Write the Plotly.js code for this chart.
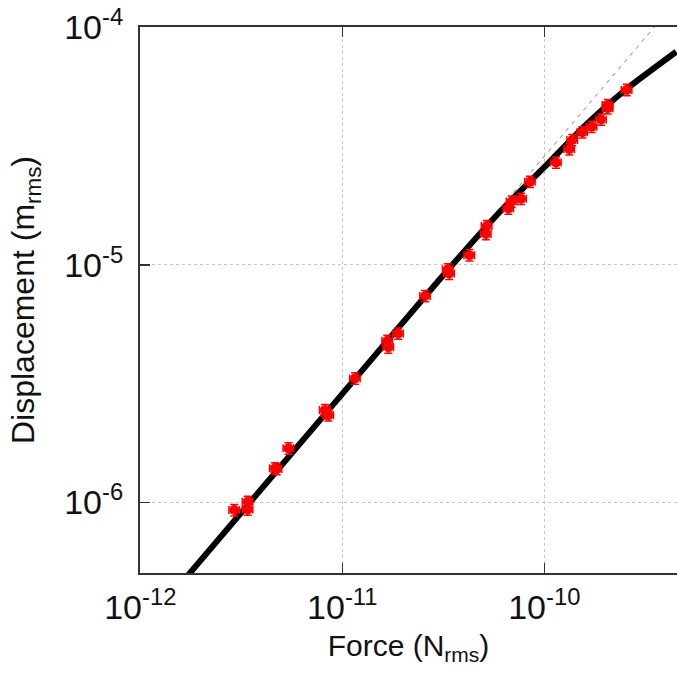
<!DOCTYPE html>
<html>
<head>
<meta charset="utf-8">
<script src="https://cdn.plot.ly/plotly-3.0.1.min.js"></script>
<style>
html, body { margin: 0; padding: 0; overflow: hidden; background: #fff; }
#chart { width: 677px; height: 682px; }
</style>
</head>
<body>
<div id="chart"></div>
<script>
// Measured data (Force in N_rms, Displacement in m_rms)
const force = [2.92e-12, 3.40e-12, 3.40e-12, 4.64e-12, 4.73e-12, 5.42e-12, 8.2e-12, 8.53e-12, 8.37e-12,
  1.156e-11, 1.67e-11, 1.69e-11, 1.89e-11, 2.57e-11, 3.33e-11, 3.38e-11, 4.26e-11, 5.14e-11, 5.19e-11,
  6.64e-11, 6.9e-11, 7.68e-11, 8.5e-11, 1.143e-10, 1.33e-10, 1.377e-10, 1.543e-10, 1.717e-10, 1.91e-10,
  2.06e-10, 2.06e-10, 2.56e-10];
const displacement = [9.29e-7, 1.007e-6, 9.35e-7, 1.393e-6, 1.384e-6, 1.69e-6, 2.45e-6, 2.33e-6, 2.38e-6,
  3.33e-6, 4.8e-6, 4.5e-6, 5.15e-6, 7.4e-6, 9.6e-6, 9.2e-6, 1.10e-5, 1.35e-5, 1.46e-5,
  1.73e-5, 1.85e-5, 1.90e-5, 2.24e-5, 2.70e-5, 3.07e-5, 3.36e-5, 3.62e-5, 3.82e-5, 4.10e-5,
  4.72e-5, 4.57e-5, 5.46e-5];

// Model curve (thick black)
const modelForce = [1.5e-12, 1e-11, 3e-11, 6e-11, 1e-10, 1.6e-10, 2.5e-10, 4.5e-10];
const modelDisp  = [4.3e-7, 2.865e-6, 8.6e-6, 1.667e-5, 2.58e-5, 3.88e-5, 5.43e-5, 7.9e-5];

// Linear extrapolation (thin dashed)
const linForce = [1e-12, 5e-10];
const linDisp  = [2.865e-7, 1.4327e-4];

// Tick labels
const xTickVals = [1e-12, 1e-11, 1e-10];
const xTickText = ['10<sup>-12</sup>', '10<sup>-11</sup>', '10<sup>-10</sup>'];
const yTickVals = [1e-6, 1e-5, 1e-4];
const yTickText = ['10<sup>-6</sup>', '10<sup>-5</sup>', '10<sup>-4</sup>'];

const FONT = 'Liberation Sans, Arial, sans-serif';

const traces = [
  {
    x: linForce, y: linDisp, type: 'scatter', mode: 'lines',
    line: {color: '#808080', width: 1, dash: '4px,5px'},
    hoverinfo: 'skip', showlegend: false
  },
  {
    x: modelForce, y: modelDisp, type: 'scatter', mode: 'lines',
    line: {color: '#000000', width: 6, shape: 'spline', smoothing: 0.6},
    showlegend: false
  },
  {
    x: force, y: displacement, type: 'scatter', mode: 'markers',
    marker: {color: '#ff0000', size: 10, symbol: 'circle'},
    error_x: {type: 'percent', value: 6, color: '#ff0000', thickness: 1.5, width: 4},
    error_y: {type: 'percent', value: 5.5, color: '#ff0000', thickness: 1.5, width: 4},
    showlegend: false
  }
];

const axisCommon = {
  type: 'log',
  tickmode: 'array',
  ticks: 'inside',
  ticklen: 10,
  tickwidth: 1.5,
  tickcolor: '#333333',
  showline: true,
  linecolor: '#333333',
  linewidth: 2,
  showgrid: true,
  gridcolor: '#c4c4c4',
  gridwidth: 1,
  griddash: '3px,3px',
  zeroline: false,
  ticklabeloverflow: 'allow',
  tickfont: {family: FONT, size: 34, color: '#111111'}
};

const layout = {
  width: 677, height: 682,
  margin: {l: 140, r: 0, t: 27, b: 109},
  paper_bgcolor: '#ffffff', plot_bgcolor: '#ffffff',
  showlegend: false,
  xaxis: Object.assign({}, axisCommon, {
    range: [-12.0015, -9.343],
    tickvals: xTickVals, ticktext: xTickText,
    mirror: 'ticks',
    ticklabelstandoff: 3,
    title: {text: 'Force (N<sub>rms</sub>)', font: {family: FONT, size: 30, color: '#111111'}, standoff: 10}
  }),
  yaxis: Object.assign({}, axisCommon, {
    range: [-6.297, -3.998],
    tickvals: yTickVals, ticktext: yTickText,
    mirror: false,
    ticklabelstandoff: 8,
    title: {text: 'Displacement (m<sub>rms</sub>)', font: {family: FONT, size: 32, color: '#111111'}, standoff: 20}
  })
};

Plotly.newPlot('chart', traces, layout, {displayModeBar: false, staticPlot: true});
</script>
</body>
</html>
